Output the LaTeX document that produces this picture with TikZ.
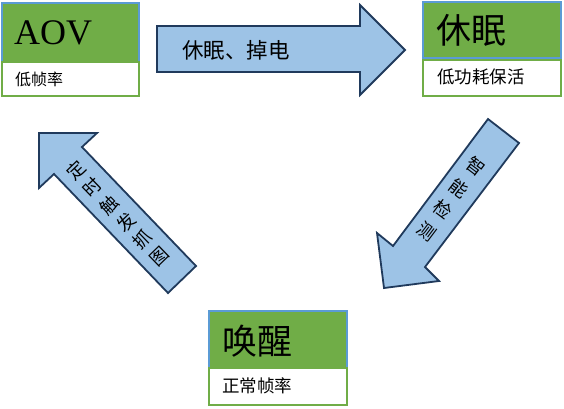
\documentclass[tikz,border=0pt]{standalone}
\usepackage{fontspec}
\setmainfont{Liberation Serif}
\newfontfamily\cjk{Noto Sans CJK SC}
\definecolor{boxgreen}{HTML}{70AD47}
\definecolor{boxblue}{HTML}{5B9BD5}
\definecolor{arrfill}{HTML}{9DC3E6}
\definecolor{arredge}{HTML}{203A5C}
\tikzset{
  titlebox/.style={fill=boxgreen, draw=boxblue, line width=2pt},
  subbox/.style={fill=white, draw=boxgreen, line width=2pt},
  bigarrow/.style={fill=arrfill, draw=arredge, line width=1.8pt, line join=miter},
  bigtxt/.style={anchor=west, inner sep=0pt, font=\cjk\fontsize{35}{35}\selectfont},
  smalltxt/.style={anchor=west, inner sep=0pt, font=\cjk\fontsize{17.5}{17.5}\selectfont},
  arrtxt/.style={inner sep=0pt, font=\cjk\fontsize{21.5}{21.5}\selectfont},
  vtxt/.style={inner sep=0pt, align=center}
}
\begin{document}
\begin{tikzpicture}[x=1pt,y=-1pt]
\useasboundingbox (0,0) rectangle (564,408);
% AOV
\draw[titlebox] (1.5,2.5) rectangle (138.5,62);
\draw[subbox] (1.5,62) rectangle (138.5,96);
\node[anchor=west, inner sep=0pt, font=\fontsize{36}{36}\selectfont] (aov) at (14,33) {AOV};
\node[smalltxt, font=\cjk\fontsize{16}{16}\selectfont] (aovsub) at (15,79) {低帧率};
% sleep
\draw[titlebox] (423,1.5) rectangle (561,58);
\draw[subbox] (423,60) rectangle (561,96);
\node[bigtxt] (sleep) at (436,30) {休眠};
\node[smalltxt] (sleepsub) at (437,77) {低功耗保活};
% wake
\draw[titlebox] (209,311) rectangle (347,368);
\draw[subbox] (209,368) rectangle (347,405);
\node[bigtxt] (wake) at (222,341) {唤醒};
\node[smalltxt] (wakesub) at (222,386) {正常帧率};
% arrow 1
\draw[bigarrow] (157,26) -- (360,26) -- (360,5) -- (405,50) -- (360,95) -- (360,72) -- (157,72) -- cycle;
\node[arrtxt] (a1) at (236,50) {休眠、掉电};
% arrow 2
\draw[bigarrow] (488,119) -- (519,143) -- (425,267) -- (439,281) -- (384,288) -- (377,233) -- (393,246) -- cycle;
\node[vtxt, rotate=-37, font=\cjk\fontsize{18}{27}\selectfont] (b) at (451,199) {智\\能\\检\\测};
% arrow 3
\draw[bigarrow] (39,133) -- (97,133) -- (82,147) -- (196,266) -- (168,293) -- (54,174) -- (39,188) -- cycle;
\node[vtxt, rotate=44, font=\cjk\fontsize{18}{24}\selectfont] (c) at (117.5,213.5) {定\\时\\触\\发\\抓\\图};
\end{tikzpicture}
\end{document}
